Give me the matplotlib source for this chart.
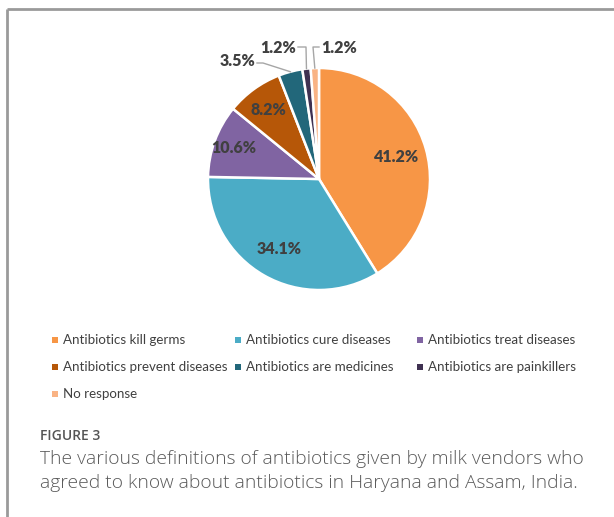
import numpy as np
import matplotlib.pyplot as plt
from matplotlib.patches import Rectangle

# --- data ---
categories = ["Antibiotics kill germs", "Antibiotics cure diseases",
              "Antibiotics treat diseases", "Antibiotics prevent diseases",
              "Antibiotics are medicines", "Antibiotics are painkillers",
              "No response"]
shares = [41.2, 34.1, 10.6, 8.2, 3.5, 1.2, 1.2]
colors = ["#F79646", "#4BACC6", "#8064A2", "#B65708",
          "#22677A", "#3F3151", "#F9B384"]

W, H = 614, 517
fig = plt.figure(figsize=(W / 100, H / 100), dpi=100)
ax = fig.add_axes([0, 0, 1, 1])


def Y(py):
    return H - py


# frame (top + left)
ax.plot([7, W], [Y(9), Y(9)], color="#9a9a9a", lw=2, solid_capstyle="butt")
ax.plot([7, 7], [Y(9), 0], color="#9a9a9a", lw=2, solid_capstyle="butt")

# --- pie ---
cx, cy, r = 319, Y(179), 111
wedges, _ = ax.pie(shares, colors=colors, startangle=90, counterclock=False,
                   center=(cx, cy), radius=r, frame=True,
                   wedgeprops=dict(edgecolor="white", linewidth=1.8))
ax.set_xlim(0, W)
ax.set_ylim(0, H)
ax.set_aspect("equal")
ax.axis("off")

lab_font = dict(family="Lato", weight="heavy", size=11.5, color="#404040")
inside_dist = [0.73, 0.73, 0.82, 0.77]
for i, w in enumerate(wedges):
    ang = np.deg2rad((w.theta1 + w.theta2) / 2)
    txt = f"{shares[i]:.1f}%"
    if i < 4:
        d = inside_dist[i] * r
        ax.text(cx + d * np.cos(ang), cy + d * np.sin(ang), txt,
                ha="center", va="center", **lab_font)

# outside labels with leader lines
ex = [cx + r * np.cos(np.deg2rad((w.theta1 + w.theta2) / 2)) for w in wedges]
ey = [cy + r * np.sin(np.deg2rad((w.theta1 + w.theta2) / 2)) for w in wedges]
lc = "#a6a6a6"
# 3.5%
ax.plot([257, 263, ex[4]], [Y(63), Y(63), ey[4]], color=lc, lw=1)
ax.text(255, Y(61), f"{shares[4]:.1f}%", ha="right", va="center", **lab_font)
# 1.2% painkillers
ax.plot([298, 306, ex[5]], [Y(47), Y(47), ey[5]], color=lc, lw=1)
ax.text(296, Y(48), f"{shares[5]:.1f}%", ha="right", va="center", **lab_font)
# 1.2% no response
ax.plot([319, 313, ex[6]], [Y(47), Y(47), ey[6]], color=lc, lw=1)
ax.text(321, Y(48), f"{shares[6]:.1f}%", ha="left", va="center", **lab_font)

# --- legend (Excel style, row-wise) ---
col_x = [55, 238, 420]
row_y = [340, 367, 394]
for i, name in enumerate(categories):
    row, col = divmod(i, 3)
    x, y = col_x[col], Y(row_y[row])
    ax.add_patch(Rectangle((x - 3, y - 3), 6, 6, color=colors[i], lw=0))
    ax.text(x + 8, y, name, ha="left", va="center", family="Lato",
            size=9.6, color="#404040")

# --- caption ---
ax.text(40, Y(436), "FIGURE 3", ha="left", va="center", family="Open Sans",
        weight="semibold", size=10, color="#555555")
ax.text(40, Y(459), "The various definitions of antibiotics given by milk vendors who",
        ha="left", va="center", family="Open Sans", weight="light",
        size=13.9, color="#5a5a5a")
ax.text(40, Y(483), "agreed to know about antibiotics in Haryana and Assam, India.",
        ha="left", va="center", family="Open Sans", weight="light",
        size=13.9, color="#5a5a5a")

fig.savefig("out.png", dpi=100, facecolor="white")
